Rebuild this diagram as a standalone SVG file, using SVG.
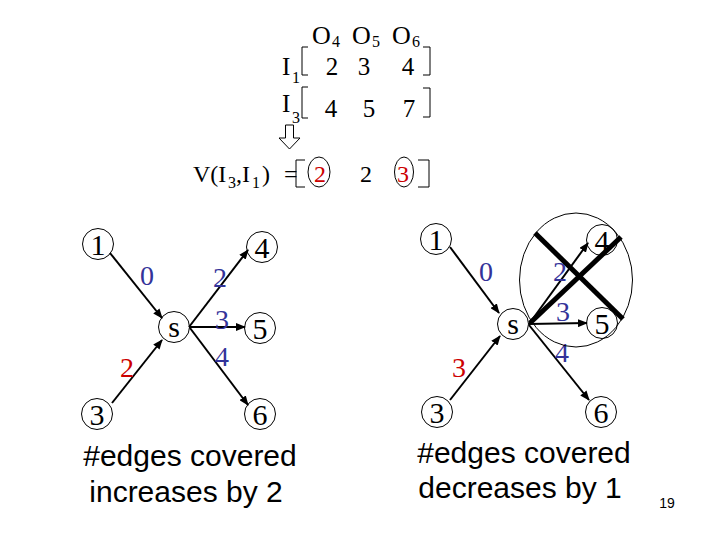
<svg xmlns="http://www.w3.org/2000/svg" width="720" height="540" viewBox="0 0 720 540">
<style>
.t{font-family:"Liberation Serif","Times New Roman",serif;fill:#000}
.m{font-size:25px}
.sub{font-size:16px}
.nl{font-size:30px;text-anchor:middle}
.el{font-size:28px;text-anchor:middle;fill:#333399}
.red{fill:#cc0000}
.s{font-family:"Liberation Sans",Arial,sans-serif;fill:#000;text-anchor:middle}
.nc{fill:none;stroke:#000;stroke-width:1}
.br{fill:none;stroke:#000;stroke-width:1}
.e{stroke:#000;stroke-width:2;fill:none;marker-end:url(#ah)}
.x{stroke:#000;stroke-width:5;stroke-linecap:butt}
</style>
<defs>
<marker id="ah" markerUnits="userSpaceOnUse" markerWidth="10" markerHeight="8" refX="9" refY="4" orient="auto">
<path d="M0,0 L10,4 L0,8 Z" fill="#000"/>
</marker>
</defs>
<rect width="720" height="540" fill="#fff"/>

<g id="matrix">
<text class="t" x="312" y="44" font-size="26">O</text><text class="t sub" x="332" y="47">4</text>
<text class="t" x="352" y="44" font-size="26">O</text><text class="t sub" x="372" y="47">5</text>
<text class="t" x="392" y="44" font-size="26">O</text><text class="t sub" x="412" y="47">6</text>
<text class="t m" x="282" y="75">I</text><text class="t sub" x="292" y="83">1</text>
<path class="br" d="M308,47 H302 V75 H308 M423,47 H430 V75 H423"/>
<text class="t m" x="332" y="75" text-anchor="middle">2</text>
<text class="t m" x="364" y="75" text-anchor="middle">3</text>
<text class="t m" x="408" y="75" text-anchor="middle">4</text>
<text class="t m" x="282" y="112">I</text><text class="t sub" x="292" y="123">3</text>
<path class="br" d="M308,87 H302 V118 H308 M423,88 H430 V117 H423"/>
<text class="t m" x="331" y="117" text-anchor="middle">4</text>
<text class="t m" x="369" y="117" text-anchor="middle">5</text>
<text class="t m" x="409" y="117" text-anchor="middle">7</text>
<path d="M285.5,125 H293.5 V138 H300 L289.5,149 L279,138 H285.5 Z" fill="#fff" stroke="#000" stroke-width="1"/>
</g>

<g id="vline">
<text class="t" x="193" y="182" font-size="24">V(I</text>
<text class="t sub" x="228" y="188" font-size="15">3</text>
<text class="t" x="236" y="182" font-size="24">,I</text>
<text class="t sub" x="252" y="188" font-size="15">1</text>
<text class="t" x="262" y="182" font-size="24">)</text>
<text class="t" x="284" y="182" font-size="24">=</text>
<path class="br" d="M305,160 H296 V187 H305 M418,160 H429 V187 H418"/>
<text class="t red" x="320" y="182" font-size="24" text-anchor="middle">2</text>
<ellipse class="nc" cx="319" cy="172" rx="11" ry="15"/>
<text class="t" x="366" y="182" font-size="24" text-anchor="middle">2</text>
<text class="t red" x="403" y="182" font-size="24" text-anchor="middle">3</text>
<ellipse class="nc" cx="404" cy="172" rx="9.5" ry="15"/>
</g>

<g id="connectors">
<path class="e" d="M110,253 L162,318"/>
<path class="e" d="M112,403 L162,340"/>
<path class="e" d="M189,327 L248,250"/>
<path class="e" d="M189,327 L245,327"/>
<path class="e" d="M190,328 L248,405"/>
<path class="e" d="M450,247 L499,313"/>
<path class="e" d="M450,400 L500,336"/>
<path class="e" d="M529,324 L588,243"/>
<path class="e" d="M529,324 L587,323"/>
<path class="e" d="M529,325 L589,400"/>
</g>

<g id="left-labels">
<text class="t el" x="147" y="285">0</text>
<text class="t el red" x="127" y="377">2</text>
<text class="t el" x="220" y="287">2</text>
<text class="t el" x="222" y="329">3</text>
<text class="t el" x="222" y="366">4</text>
</g>

<g id="L1"><circle class="nc" cx="98" cy="244" r="15.5"/><text class="t nl" x="98" y="255">1</text></g>
<g id="Ls"><circle class="nc" cx="174" cy="327" r="15.5"/><text class="t nl" x="174" y="337">s</text></g>
<g id="L4"><circle class="nc" cx="262" cy="247" r="15.5"/><text class="t nl" x="262" y="258">4</text></g>
<g id="L5"><circle class="nc" cx="260" cy="328" r="15.5"/><text class="t nl" x="260" y="339">5</text></g>
<g id="L3"><circle class="nc" cx="97" cy="414" r="15.5"/><text class="t nl" x="97" y="425">3</text></g>
<g id="L6"><circle class="nc" cx="260" cy="414" r="15.5"/><text class="t nl" x="260" y="425">6</text></g>

<g id="right-labels">
<text class="t el" x="486" y="281">0</text>
<text class="t el red" x="459" y="377">3</text>
<text class="t el" x="560" y="281">2</text>
<text class="t el" x="563" y="321">3</text>
<text class="t el" x="562" y="362">4</text>
</g>

<g id="R1"><circle class="nc" cx="436" cy="239" r="15.5"/><text class="t nl" x="436" y="250">1</text></g>
<g id="Rs"><circle class="nc" cx="513" cy="324" r="15.5"/><text class="t nl" x="513" y="334">s</text></g>
<g id="R4"><circle class="nc" cx="602" cy="240" r="15.5"/><text class="t nl" x="602" y="251">4</text></g>
<g id="R5"><circle class="nc" cx="602" cy="323" r="15.5"/><text class="t nl" x="602" y="334">5</text></g>
<g id="R3"><circle class="nc" cx="437" cy="412" r="15.5"/><text class="t nl" x="437" y="423">3</text></g>
<g id="R6"><circle class="nc" cx="601" cy="412" r="15.5"/><text class="t nl" x="601" y="423">6</text></g>

<g id="cross">
<ellipse class="nc" cx="576" cy="280" rx="56.5" ry="67"/>
<line class="x" x1="535" y1="233" x2="623" y2="319"/>
<line class="x" x1="530" y1="323" x2="621" y2="237"/>
</g>

<g id="captions">
<text class="s" x="190" y="466" font-size="30">#edges covered</text>
<text class="s" x="186" y="502" font-size="30">increases by 2</text>
<text class="s" x="524" y="463" font-size="30">#edges covered</text>
<text class="s" x="520" y="498" font-size="30">decreases by 1</text>
<text class="s" x="667" y="508" font-size="14">19</text>
</g>
</svg>
